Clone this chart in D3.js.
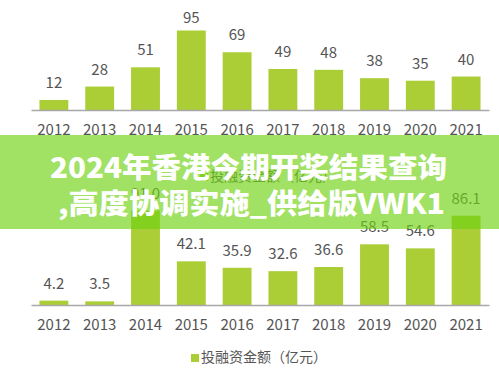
<!DOCTYPE html>
<html>
<head>
<meta charset="utf-8">
<script src="https://cdn.jsdelivr.net/npm/d3@7"></script>
<style>
html,body{margin:0;padding:0;background:#fff;}
svg{display:block;}
</style>
</head>
<body>
<script>
const years = ["2012","2013","2014","2015","2016","2017","2018","2019","2020","2021"];
const topValues = [12, 28, 51, 95, 69, 49, 48, 38, 35, 40];
const bottomValues = [4.2, 3.5, 91.0, 42.1, 35.9, 32.6, 36.6, 58.5, 54.6, 86.1];
const bottomLabels = ["4.2","3.5","91.0","42.1","35.9","32.6","36.6","58.5","54.6","86.1"];
const legendLabel = "投融资金额（亿元）";
const titleLines = ["2024年香港今期开奖结果查询", ",高度协调实施_供给版VWK1"];

const W = 499, H = 375;
const barColor = "#abcd35";
const textColor = "#555";
const font = "'Noto Sans CJK SC','Noto Sans',sans-serif";

const svg = d3.select("body").append("svg").attr("width", W).attr("height", H);

const x = d3.scaleBand().domain(years).range([31, 489]).paddingInner(0.37).paddingOuter(0.185);

function panel(values, labels, yScale, baseY, yearY, legendY, legendX) {
  const g = svg.append("g");
  g.selectAll("rect.bar").data(values).join("rect")
    .attr("class","bar")
    .attr("x", (d,i) => x(years[i]))
    .attr("width", x.bandwidth())
    .attr("y", d => yScale(d))
    .attr("height", d => baseY - yScale(d))
    .attr("fill", barColor);
  g.selectAll("text.val").data(values).join("text")
    .attr("class","val")
    .attr("x", (d,i) => x(years[i]) + x.bandwidth()/2)
    .attr("y", d => Math.max(yScale(d) - 12, 23))
    .attr("text-anchor","middle")
    .attr("font-family", font).attr("font-size", 15)
    .attr("fill", textColor)
    .text((d,i) => labels[i]);
  const axis = d3.axisBottom(x).tickSize(0).tickPadding(0);
  const ax = g.append("g").attr("transform", `translate(0,${baseY})`).call(axis);
  ax.select(".domain").attr("stroke", "#a8a8a8").attr("stroke-width", 1.5);
  ax.selectAll("text")
    .attr("y", yearY - baseY)
    .attr("dy", 0)
    .attr("font-family", font).attr("font-size", 15)
    .attr("fill", textColor);
  g.append("rect").attr("x", legendX).attr("y", legendY - 8).attr("width", 8).attr("height", 8).attr("fill", barColor);
  g.append("text").attr("x", legendX + 10).attr("y", legendY)
    .attr("font-family", font).attr("font-size", 14).attr("fill", textColor)
    .text(legendLabel);
}

const yTop = d3.scaleLinear().domain([0, 95]).range([110, 30.5]);
const yBot = d3.scaleLinear().domain([0, 86.1]).range([305, 215.7]);

panel(topValues, topValues.map(String), yTop, 110, 135, 181, 200);
panel(bottomValues, bottomLabels, yBot, 305, 330, 362, 191);

// overlay band
svg.append("rect").attr("x", 0).attr("y", 135).attr("width", W).attr("height", 94)
  .attr("fill", "rgb(112,210,20)").attr("fill-opacity", 0.66);

const tl = svg.append("g");
tl.append("text").attr("x", 50).attr("y", 178)
  .attr("textLength", 397).attr("lengthAdjust", "spacingAndGlyphs")
  .attr("font-family", font).attr("font-weight", 900).attr("font-size", 28)
  .attr("fill", "#fff").text(titleLines[0]);
tl.append("text").attr("x", 58).attr("y", 214)
  .attr("textLength", 387).attr("lengthAdjust", "spacingAndGlyphs")
  .attr("font-family", font).attr("font-weight", 900).attr("font-size", 28)
  .attr("fill", "#fff").text(titleLines[1]);
</script>
</body>
</html>
